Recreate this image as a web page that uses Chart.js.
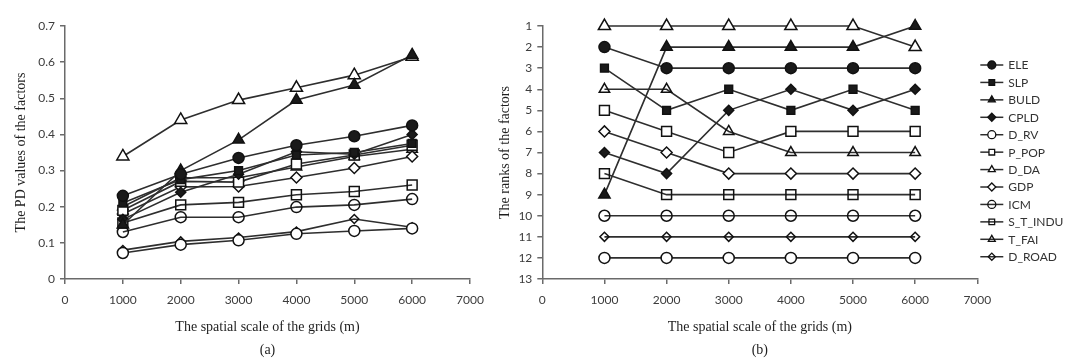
<!DOCTYPE html>
<html>
<head>
<meta charset="utf-8">
<script src="https://cdn.jsdelivr.net/npm/chart.js@4.4.1/dist/chart.umd.min.js"></script>
<style>
  html, body { margin: 0; padding: 0; background: #fff; }
  #wrap { position: relative; width: 1080px; height: 362px; overflow: hidden; }
  .box { position: absolute; top: 0; height: 362px; }
  #boxA { left: 0; width: 500px; }
  #boxB { left: 480px; width: 600px; }
</style>
</head>
<body>
<div id="wrap">
  <div class="box" id="boxA"><canvas id="pdChart"></canvas></div>
  <div class="box" id="boxB"><canvas id="rankChart"></canvas></div>
</div>
<script>
// grid sizes (m)
const gridSizes = [1000, 2000, 3000, 4000, 5000, 6000];
const factorNames = ['ELE', 'SLP', 'BULD', 'CPLD', 'D_RV', 'P_POP', 'D_DA', 'GDP', 'ICM', 'S_T_INDU', 'T_FAI', 'D_ROAD'];

// (a) PD values
const pdELE    = [0.230, 0.290, 0.335, 0.370, 0.395, 0.425];
const pdSLP    = [0.210, 0.275, 0.300, 0.343, 0.350, 0.375];
const pdBULD   = [0.150, 0.300, 0.385, 0.495, 0.537, 0.620];
const pdCPLD   = [0.165, 0.240, 0.290, 0.352, 0.345, 0.400];
const pdD_RV   = [0.072, 0.095, 0.107, 0.125, 0.133, 0.140];
const pdP_POP  = [0.190, 0.270, 0.268, 0.318, 0.343, 0.370];
const pdD_DA   = [0.339, 0.440, 0.495, 0.529, 0.564, 0.615];
const pdGDP    = [0.180, 0.255, 0.256, 0.281, 0.307, 0.339];
const pdICM    = [0.130, 0.171, 0.171, 0.199, 0.205, 0.221];
const pdS_T    = [0.155, 0.205, 0.212, 0.233, 0.242, 0.260];
const pdT_FAI  = [0.200, 0.280, 0.280, 0.310, 0.339, 0.359];
const pdD_ROAD = [0.080, 0.104, 0.115, 0.131, 0.166, 0.143];

// (b) ranks
const rkELE    = [2, 3, 3, 3, 3, 3];
const rkSLP    = [3, 5, 4, 5, 4, 5];
const rkBULD   = [9, 2, 2, 2, 2, 1];
const rkCPLD   = [7, 8, 5, 4, 5, 4];
const rkD_RV   = [12, 12, 12, 12, 12, 12];
const rkP_POP  = [5, 6, 7, 6, 6, 6];
const rkD_DA   = [1, 1, 1, 1, 1, 2];
const rkGDP    = [6, 7, 8, 8, 8, 8];
const rkICM    = [10, 10, 10, 10, 10, 10];
const rkS_T    = [8, 9, 9, 9, 9, 9];
const rkT_FAI  = [4, 4, 6, 7, 7, 7];
const rkD_ROAD = [11, 11, 11, 11, 11, 11];

const pdSeries = [pdELE, pdSLP, pdBULD, pdCPLD, pdD_RV, pdP_POP, pdD_DA, pdGDP, pdICM, pdS_T, pdT_FAI, pdD_ROAD];
const rankSeries = [rkELE, rkSLP, rkBULD, rkCPLD, rkD_RV, rkP_POP, rkD_DA, rkGDP, rkICM, rkS_T, rkT_FAI, rkD_ROAD];

// marker look per factor
const BLACK = '#1a1a1a', WHITE = '#ffffff', NONE = 'rgba(255,255,255,0)';
const markerStyles = [
  { shape: 'circle',   fill: BLACK, r: 5.5 },
  { shape: 'rect',     fill: BLACK, r: 5.5 },
  { shape: 'triangle', fill: BLACK, r: 6.5 },
  { shape: 'rectRot',  fill: BLACK, r: 5 },
  { shape: 'circle',   fill: WHITE, r: 5.5 },
  { shape: 'rect',     fill: WHITE, r: 7 },
  { shape: 'triangle', fill: WHITE, r: 7 },
  { shape: 'rectRot',  fill: WHITE, r: 5.5 },
  { shape: 'circle',   fill: NONE,  r: 5.5 },
  { shape: 'rect',     fill: NONE,  r: 7 },
  { shape: 'triangle', fill: NONE,  r: 6 },
  { shape: 'rectRot',  fill: NONE,  r: 4.5 }
];

const LINE = '#2e2e2e';
const AXIS = '#6a6a6a';
const SANS = 'Lato, "Open Sans", sans-serif';
const SERIF = '"Liberation Serif", "DejaVu Serif", serif';

function buildDatasets(series) {
  return series.map((vals, i) => {
    const st = markerStyles[i];
    return {
      label: factorNames[i],
      data: vals.map((v, j) => ({ x: gridSizes[j], y: v })),
      borderColor: LINE,
      borderWidth: 1.6,
      pointStyle: st.shape,
      pointRadius: st.r,
      pointBackgroundColor: st.fill,
      pointBorderColor: '#111',
      pointBorderWidth: 1.5,
      tension: 0,
      fill: false,
      clip: false
    };
  });
}

function xAxis(caption) {
  return {
    type: 'linear',
    min: 0,
    max: 7000,
    afterFit: s => { s.height = 83; },
    ticks: {
      stepSize: 1000,
      padding: 9,
      color: '#3c3c3c',
      font: { family: SANS, size: 12 },
      callback: v => String(v)
    },
    grid: { display: true, drawOnChartArea: false, drawTicks: true, tickLength: 5, color: AXIS, lineWidth: 1.5 },
    border: { display: true, color: AXIS, width: 1.5 },
    title: {
      display: true,
      text: ['The spatial scale of the grids (m)', caption],
      color: '#1e1e1e',
      font: { family: SERIF, size: 14, lineHeight: 1.65 },
      padding: { top: 0, bottom: 0 }
    }
  };
}

// simple line+marker legend drawn to the right of the rank chart
const sideLegend = {
  id: 'sideLegend',
  afterDraw(chart) {
    const ctx = chart.ctx;
    const x0 = chart.chartArea.right + 3;
    const y0 = 65;
    const step = 17.43;
    ctx.save();
    chart.data.datasets.forEach((ds, i) => {
      const y = y0 + i * step;
      ctx.strokeStyle = LINE;
      ctx.lineWidth = 1.5;
      ctx.beginPath();
      ctx.moveTo(x0, y);
      ctx.lineTo(x0 + 23, y);
      ctx.stroke();
      ctx.fillStyle = ds.pointBackgroundColor;
      ctx.strokeStyle = '#111';
      ctx.lineWidth = 1.3;
      Chart.helpers.drawPoint(ctx, { pointStyle: ds.pointStyle, radius: Math.min(ds.pointRadius, 5) * 0.8, borderWidth: 1.3 }, x0 + 11.5, y);
      ctx.fillStyle = '#333';
      ctx.font = '12px ' + SANS;
      ctx.textBaseline = 'middle';
      ctx.textAlign = 'left';
      ctx.fillText(ds.label, x0 + 28, y + 0.5);
    });
    ctx.restore();
  }
};

new Chart(document.getElementById('pdChart'), {
  type: 'line',
  data: { datasets: buildDatasets(pdSeries) },
  options: {
    responsive: true,
    maintainAspectRatio: false,
    animation: false,
    layout: { padding: { left: 10, top: 26, right: 30, bottom: 0 } },
    plugins: { legend: { display: false }, tooltip: { enabled: false } },
    scales: {
      x: xAxis('(a)'),
      y: {
        min: 0,
        max: 0.7,
        afterFit: s => { s.width = 55; },
        ticks: { stepSize: 0.1, padding: 5, color: '#3c3c3c', font: { family: SANS, size: 12 } },
        grid: { display: true, drawOnChartArea: false, drawTicks: true, tickLength: 5, color: AXIS, lineWidth: 1.5 },
        border: { display: true, color: AXIS, width: 1.5 },
        title: {
          display: true,
          text: 'The PD values of the factors',
          color: '#1e1e1e',
          font: { family: SERIF, size: 14, lineHeight: 1.2 },
          padding: { top: 3, bottom: 0 }
        }
      }
    }
  }
});

new Chart(document.getElementById('rankChart'), {
  type: 'line',
  data: { datasets: buildDatasets(rankSeries) },
  options: {
    responsive: true,
    maintainAspectRatio: false,
    animation: false,
    layout: { padding: { left: 14, top: 26, right: 102.7, bottom: 0 } },
    plugins: { legend: { display: false }, tooltip: { enabled: false } },
    scales: {
      x: xAxis('(b)'),
      y: {
        reverse: true,
        min: 1,
        max: 13,
        afterFit: s => { s.width = 48.3; },
        ticks: { stepSize: 1, padding: 5, color: '#3c3c3c', font: { family: SANS, size: 12 } },
        grid: { display: true, drawOnChartArea: false, drawTicks: true, tickLength: 5, color: AXIS, lineWidth: 1.5 },
        border: { display: true, color: AXIS, width: 1.5 },
        title: {
          display: true,
          text: 'The ranks of the factors',
          color: '#1e1e1e',
          font: { family: SERIF, size: 14, lineHeight: 1.2 },
          padding: { top: 3, bottom: 0 }
        }
      }
    }
  },
  plugins: [sideLegend]
});
</script>
</body>
</html>
